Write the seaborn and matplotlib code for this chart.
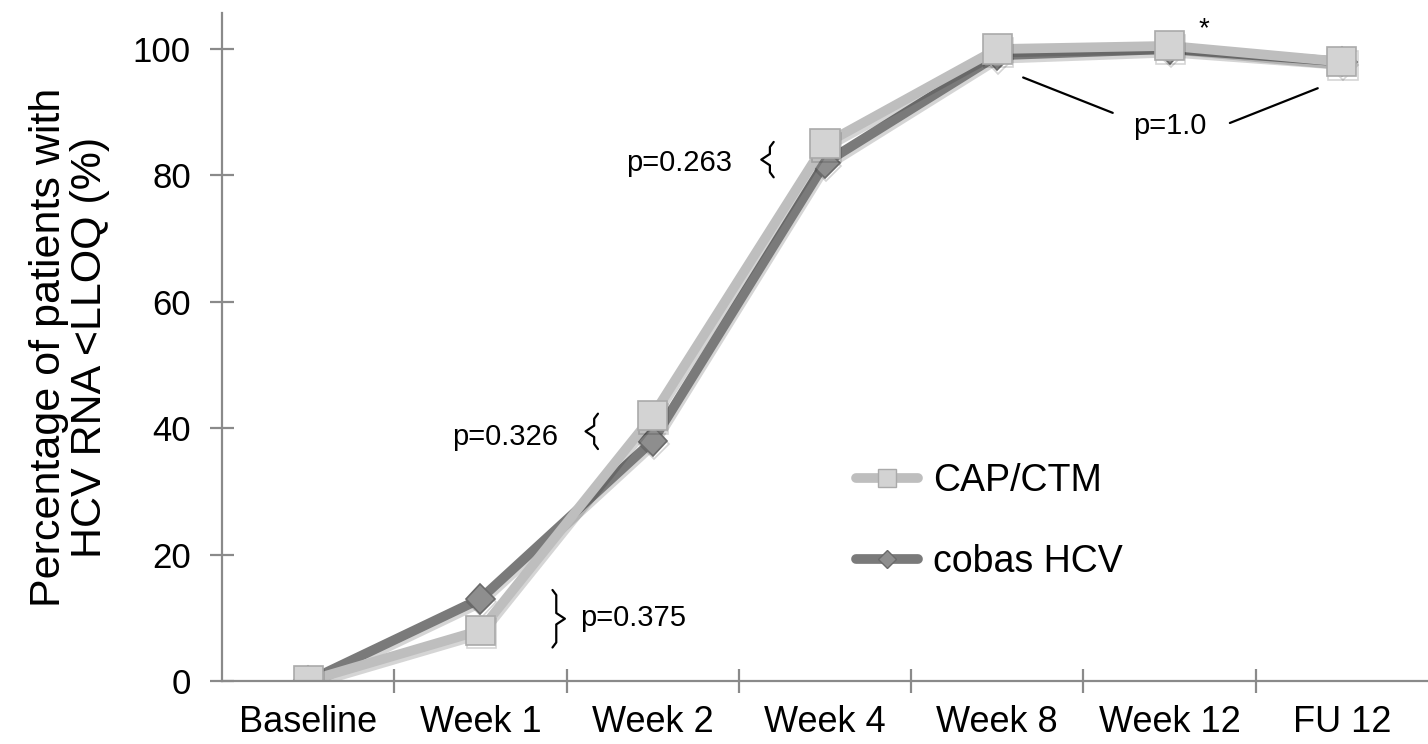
import matplotlib
matplotlib.use("Agg")
import matplotlib.pyplot as plt
import matplotlib.patheffects as pe
from matplotlib.lines import Line2D
import seaborn as sns
import pandas as pd

# ---- data ----
categories = ["Baseline", "Week 1", "Week 2", "Week 4", "Week 8", "Week 12", "FU 12"]
cap_ctm = [0, 8, 42, 85, 100, 100.5, 98]
cobas_hcv = [0, 13, 38, 82, 99, 100, 98]
series_names = ["CAP/CTM", "cobas HCV"]
y_ticks = [0, 20, 40, 60, 80, 100]
y_label = "Percentage of patients with\nHCV RNA <LLOQ (%)"
p_labels = ["p=0.375", "p=0.326", "p=0.263", "p=1.0"]
star_label = "*"

sns.set_theme(style="white")
plt.rcParams['font.family'] = ['Liberation Sans', 'DejaVu Sans']
plt.rcParams['text.color'] = 'black'
plt.rcParams['axes.labelcolor'] = 'black'

df = pd.DataFrame({
    "timepoint": categories * 2,
    "pos": list(range(len(categories))) * 2,
    "pct": cap_ctm + cobas_hcv,
    "series": [series_names[0]] * len(categories) + [series_names[1]] * len(categories),
})

fig = plt.figure(figsize=(14.28, 7.44), dpi=100)
ax = fig.add_axes([0.1555, 0.0847, 0.8445, 0.8978])

shadow = [pe.SimpleLineShadow(offset=(0.8, -2.5), shadow_color='k', alpha=0.18), pe.Normal()]

styles = {
    "cobas HCV": dict(color="#7a7a7a", marker="D", markersize=15, markerfacecolor="#8e8e8e",
                      markeredgecolor="#6a6a6a"),
    "CAP/CTM": dict(color="#bebebe", marker="s", markersize=21, markerfacecolor="#d3d3d3",
                    markeredgecolor="#aaaaaa"),
}
for name in ["cobas HCV", "CAP/CTM"]:
    sub = df[df["series"] == name]
    st = styles[name]
    sns.lineplot(data=sub, x="pos", y="pct", ax=ax, estimator=None, sort=False, legend=False,
                 color=st["color"], linewidth=7, marker=st["marker"], markersize=st["markersize"],
                 markerfacecolor=st["markerfacecolor"], markeredgecolor=st["markeredgecolor"],
                 markeredgewidth=1.2, path_effects=shadow, solid_joinstyle="round")

ax.set_xlim(-0.5, len(categories) - 0.5)
ax.set_ylim(0, 105.7)
ax.set_xticks(range(len(categories)))
ax.set_xticklabels(categories)
ax.set_xticks([i + 0.5 for i in range(len(categories) - 1)], minor=True)
ax.set_yticks(y_ticks)
ax.set_xlabel("")
ax.set_ylabel(y_label, fontsize=31, labelpad=16, linespacing=1.05, color="black")

axis_col = "#8a8a8a"
for s in ["top", "right"]:
    ax.spines[s].set_visible(False)
for s in ["left", "bottom"]:
    ax.spines[s].set_color(axis_col)
    ax.spines[s].set_linewidth(1.6)

ax.tick_params(axis="y", which="major", direction="inout", length=17, width=1.6, color=axis_col,
               labelsize=25, pad=14, left=True, labelcolor="black")
ax.tick_params(axis="x", which="major", length=0, labelsize=26, pad=17, bottom=True,
               labelcolor="black")
ax.tick_params(axis="x", which="minor", direction="inout", length=17, width=1.6, color=axis_col,
               bottom=True)


def brace(x, y0, y1, side):
    # side=+1 -> "}" pointing right, side=-1 -> "{" pointing left
    hook = 0.022 * side
    tip = 0.05 * side
    ym = (y0 + y1) / 2
    xs = [x - hook, x, x, x + tip, x, x, x - hook]
    ys = [y1, y1 - 0.8, ym + 0.9, ym, ym - 0.9, y0 + 0.8, y0]
    ax.plot(xs, ys, color="black", lw=1.6, solid_joinstyle="round", solid_capstyle="round")


fs_p = 21
brace(1.44, 5.3, 14.4, +1)
ax.text(1.58, 10.0, p_labels[0], fontsize=fs_p, va="center", ha="left")
brace(1.66, 36.7, 42.3, -1)
ax.text(1.45, 38.6, p_labels[1], fontsize=fs_p, va="center", ha="right")
brace(2.68, 79.7, 85.3, -1)
ax.text(2.46, 82.0, p_labels[2], fontsize=fs_p, va="center", ha="right")
ax.text(5.0, 87.8, p_labels[3], fontsize=fs_p, va="center", ha="center")
ax.plot([4.15, 4.67], [95.5, 89.9], color="black", lw=1.6)
ax.plot([5.35, 5.86], [88.3, 93.8], color="black", lw=1.6)
ax.text(5.2, 103.2, star_label, fontsize=20, va="center", ha="center")

handles = [
    Line2D([], [], color=styles[n]["color"], lw=7, solid_capstyle="round", marker=styles[n]["marker"],
           markersize=styles[n]["markersize"] * 0.62, markerfacecolor=styles[n]["markerfacecolor"],
           markeredgecolor=styles[n]["markeredgecolor"], markeredgewidth=1.0)
    for n in series_names
]
ax.legend(handles, series_names, loc="center left", bbox_to_anchor=(0.526, 0.239), frameon=False,
          fontsize=27, handlelength=1.65, handletextpad=0.4, labelspacing=1.2, borderpad=0,
          borderaxespad=0)

fig.savefig("out.png", dpi=100)
